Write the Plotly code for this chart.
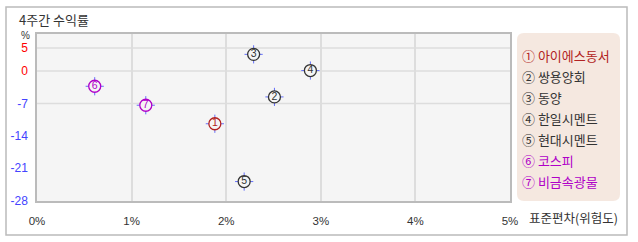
import plotly.graph_objects as go

# ---- data ----
names = ["아이에스동서", "쌍용양회", "동양", "한일시멘트", "현대시멘트", "코스피", "비금속광물"]
labels = ["1", "2", "3", "4", "5", "6", "7"]
circled = ["①", "②", "③", "④", "⑤", "⑥", "⑦"]
std_dev = [1.88, 2.51, 2.29, 2.89, 2.19, 0.61, 1.15]      # 표준편차 (%)
returns = [-11.4, -5.6, 3.6, 0.1, -23.9, -3.3, -7.4]      # 4주간 수익률 (%)
x_ticks = [0, 1, 2, 3, 4, 5]
x_tick_labels = ["0%", "1%", "2%", "3%", "4%", "5%"]
y_ticks = [5, 0, -7, -14, -21, -28]
y_grid = [5, 0, -7]

# ---- style ----
colors = ["#b22222", "#333333", "#333333", "#333333", "#333333", "#b000c8", "#b000c8"]
FONT = "Noto Sans CJK KR"
NUMFONT = "Liberation Sans"
W, H = 638, 242
L, R, T, B = 37, 510, 34, 201


def px(x):
    return (x - L) / (R - L)


def py(y):
    return (B - y) / (B - T)


def ytext(v):
    c = "#ff0000" if v >= 0 else "#4444ff"
    return f"<span style='color:{c}'>{v}</span>"


fig = go.Figure()

# tick crosses behind circles
fig.add_trace(go.Scatter(
    x=std_dev, y=returns, mode="markers",
    marker=dict(symbol="cross-thin-open", size=13, line=dict(width=1, color=colors)),
    hoverinfo="skip", showlegend=False))
# circles with numbers
fig.add_trace(go.Scatter(
    x=std_dev, y=returns, mode="markers+text", text=labels,
    textposition="middle center",
    textfont=dict(family=NUMFONT, size=10.5, color=colors),
    marker=dict(symbol="circle", size=12, color="#f5f5f5", line=dict(width=1.3, color=colors)),
    hovertext=names, showlegend=False))

shapes = []
# outer border
shapes.append(dict(type="rect", xref="paper", yref="paper",
                   x0=px(6), x1=px(627), y0=py(235), y1=py(7),
                   line=dict(color="#bbbbbb", width=1.5), layer="below"))
# horizontal grid
for g in y_grid:
    shapes.append(dict(type="line", xref="paper", yref="y", x0=0, x1=1, y0=g, y1=g,
                       line=dict(color="#dddddd", width=1.5), layer="below"))
# legend rounded box
x0, x1, y0, y1, r = 517, 620, 33, 201, 7
path = (f"M {px(x0 + r)} {py(y0)} L {px(x1 - r)} {py(y0)} "
        f"Q {px(x1)} {py(y0)} {px(x1)} {py(y0 + r)} L {px(x1)} {py(y1 - r)} "
        f"Q {px(x1)} {py(y1)} {px(x1 - r)} {py(y1)} L {px(x0 + r)} {py(y1)} "
        f"Q {px(x0)} {py(y1)} {px(x0)} {py(y1 - r)} L {px(x0)} {py(y0 + r)} "
        f"Q {px(x0)} {py(y0)} {px(x0 + r)} {py(y0)} Z")
shapes.append(dict(type="path", xref="paper", yref="paper", path=path,
                   fillcolor="#f5e8e0", line=dict(width=0)))

annotations = []
annotations.append(dict(xref="paper", yref="paper", x=px(17), y=py(19), text="4주간 수익률",
                        showarrow=False, xanchor="left", yanchor="middle",
                        font=dict(family=FONT, size=13, color="#333333")))
annotations.append(dict(xref="paper", yref="paper", x=px(25), y=py(35.5), text="%",
                        showarrow=False, xanchor="center", yanchor="middle",
                        font=dict(family=NUMFONT, size=10, color="#333333")))
annotations.append(dict(xref="paper", yref="paper", x=px(527), y=py(217), text="표준편차(위험도)",
                        showarrow=False, xanchor="left", yanchor="middle",
                        font=dict(family=FONT, size=12.5, color="#333333")))
leg_y = [55, 76.5, 97.5, 118.5, 139.5, 160.5, 181.5]
for i, n in enumerate(names):
    annotations.append(dict(xref="paper", yref="paper", x=px(520), y=py(leg_y[i]),
                            text=f"{circled[i]} {n}", showarrow=False,
                            xanchor="left", yanchor="middle",
                            font=dict(family=FONT, size=13, color=colors[i])))

fig.update_layout(
    width=W, height=H,
    margin=dict(l=L, r=W - R, t=T, b=H - B, pad=0),
    paper_bgcolor="white", plot_bgcolor="#f5f5f5",
    showlegend=False,
    shapes=shapes, annotations=annotations,
    xaxis=dict(range=[0, 5], tickvals=x_ticks, ticktext=x_tick_labels,
               showgrid=True, gridcolor="#dddddd", gridwidth=1.5,
               showline=True, linecolor="#bbbbbb", linewidth=1.5, mirror=True,
               zeroline=False, ticks="", ticklabelstandoff=8,
               tickfont=dict(family=NUMFONT, size=11.5, color="#333333")),
    yaxis=dict(range=[-28.1, 8.0], tickvals=y_ticks, ticktext=[ytext(v) for v in y_ticks],
               showgrid=False, showline=True, linecolor="#bbbbbb", linewidth=1.5, mirror=True,
               zeroline=False, ticks="", ticklabelstandoff=5,
               tickfont=dict(family=NUMFONT, size=12, color="#333333")),
)

fig.write_html("out.html")
